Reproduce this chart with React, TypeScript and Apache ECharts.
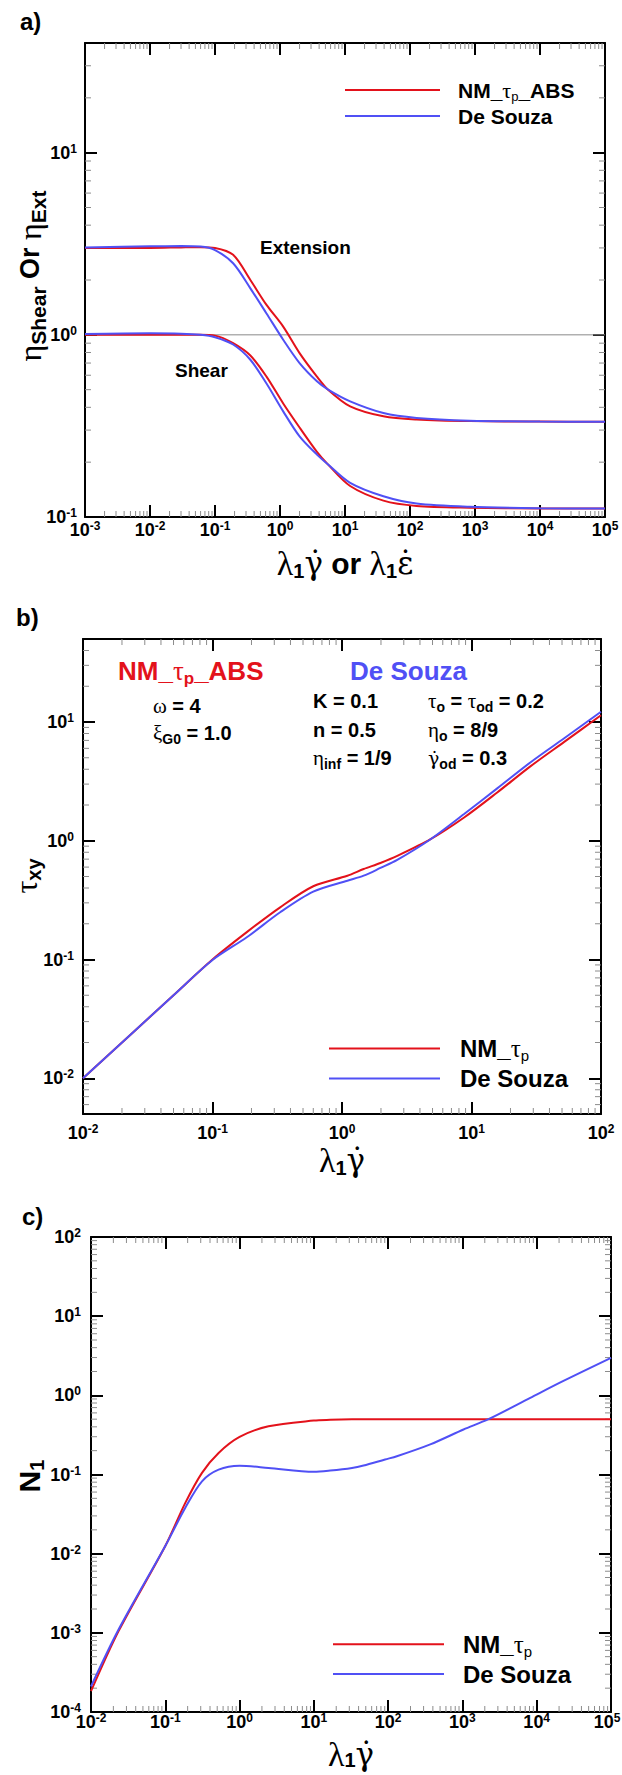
import React, { useEffect, useRef } from 'react';
import * as echarts from 'echarts';

const RED = '#e3121b';
const BLUE = '#5050f5';
const SANS = '"Liberation Sans", Arial, sans-serif';
const SERIF = '"Liberation Serif", "Times New Roman", serif';
const DSERIF = '"DejaVu Serif", "Liberation Serif", serif';
const NB = '\u00A0';

// ---------- panel a : viscosity ----------
const aRate = [0.001, 0.01, 0.03, 0.06, 0.1, 0.19, 0.35, 0.62, 1.12, 2.0, 3.7, 5.5, 12, 39, 126, 830, 10000, 100000];
const aExtNM = [3.0, 3.0, 3.02, 3.03, 3.0, 2.75, 2.0, 1.46, 1.11, 0.794, 0.59, 0.5, 0.405, 0.357, 0.343, 0.336, 0.334, 0.333];
const aExtDS = [3.02, 3.06, 3.07, 3.05, 2.92, 2.47, 1.8, 1.31, 0.94, 0.7, 0.556, 0.5, 0.431, 0.372, 0.35, 0.338, 0.334, 0.333];
const aShearNM = [1.0, 1.0, 1.0, 1.0, 0.99, 0.9, 0.77, 0.59, 0.42, 0.31, 0.228, 0.194, 0.148, 0.123, 0.115, 0.1125, 0.1115, 0.1112];
const aShearDS = [1.01, 1.02, 1.015, 1.0, 0.97, 0.885, 0.73, 0.54, 0.38, 0.277, 0.22, 0.194, 0.154, 0.13, 0.1186, 0.1138, 0.1118, 0.1113];
const aRefX = [0.001, 100000];
const aRefY = [1, 1];

// ---------- panel b : shear stress ----------
const bRate = [0.01, 0.05, 0.1, 0.184, 0.333, 0.6, 1.1, 1.47, 1.98, 2.67, 4.83, 8.77, 15.8, 28.8, 52, 100];
const bTauNM = [0.01, 0.05, 0.1, 0.17, 0.275, 0.414, 0.508, 0.578, 0.65, 0.745, 1.03, 1.57, 2.55, 4.27, 6.8, 11.4];
const bTauDS = [0.01, 0.05, 0.099, 0.154, 0.25, 0.373, 0.461, 0.508, 0.59, 0.69, 1.03, 1.68, 2.76, 4.61, 7.3, 12.2];

// ---------- panel c : first normal stress difference ----------
const cRate = [0.01, 0.0235, 0.1, 0.186, 0.312, 0.522, 1, 2.45, 10, 16.6, 32.6, 46.7, 91, 131, 369, 1035, 2240, 8180, 22900, 100000];
const cN1NM = [1.83e-4, 1.05e-3, 0.0125, 0.0438, 0.105, 0.187, 0.298, 0.406, 0.48, 0.49, 0.497, 0.5, 0.5, 0.5, 0.5, 0.5, 0.5, 0.5, 0.5, 0.5];
const cN1DS = [2.1e-4, 1.1e-3, 0.0125, 0.038, 0.082, 0.115, 0.129, 0.121, 0.108, 0.112, 0.121, 0.13, 0.155, 0.17, 0.24, 0.37, 0.5, 0.93, 1.52, 2.97];

// ---------- axis ranges ----------
const aXRange = [0.001, 100000];
const aYRange = [0.1, 40];
const bXRange = [0.01, 100];
const bYRange = [0.005, 50];
const cXRange = [0.01, 100000];
const cYRange = [0.0001, 100];

const zip = (xs: number[], ys: number[]) => xs.map((x, i) => [x, ys[i]]);

function makeExpLabel(maxV: number, shiftLast: boolean) {
  return (v: number) => {
    const e = Math.log10(v);
    const r = Math.round(e);
    if (Math.abs(e - r) > 1e-6) return '';
    if (shiftLast && Math.abs(v - maxV) / maxV < 1e-6) return `{b|10}{sr|${r}}`;
    return `{b|10}{s|${r}}`;
  };
}

const tickRich = {
  b: { fontFamily: SANS, fontWeight: 'bold', fontSize: 18, lineHeight: 18, color: '#000' },
  s: { fontFamily: SANS, fontWeight: 'bold', fontSize: 12, lineHeight: 12, color: '#000', padding: [0, 0, 8, 0] },
  sr: { fontFamily: SANS, fontWeight: 'bold', fontSize: 12, lineHeight: 12, color: '#000', padding: [0, 8, 8, 0] },
};

function minorVals(r: number[]) {
  const out: number[] = [];
  const e0 = Math.floor(Math.log10(r[0]) + 1e-9);
  const e1 = Math.ceil(Math.log10(r[1]) - 1e-9);
  for (let e = e0; e < e1; e++) {
    for (let m = 2; m <= 9; m++) {
      const v = m * Math.pow(10, e);
      if (v > r[0] * 1.0001 && v < r[1] * 0.9999) out.push(v);
    }
  }
  return out;
}

function makeAxes(gi: number, xr: number[], yr: number[], xm: number, ym: number, shiftLast = false) {
  const line = { show: true, onZero: false, lineStyle: { color: '#000', width: 2 } };
  const tick = { show: true, inside: true, length: 12, lineStyle: { color: '#000', width: 2 } };
  const base = { type: 'log', logBase: 10, gridIndex: gi, splitLine: { show: false }, minorTick: { show: false }, axisLine: line, axisTick: tick };
  return {
    x: [
      { ...base, min: xr[0], max: xr[1], position: 'bottom', axisLabel: { show: true, margin: xm, formatter: makeExpLabel(xr[1], shiftLast), rich: tickRich } },
      { ...base, min: xr[0], max: xr[1], position: 'top', axisLabel: { show: false } },
    ],
    y: [
      { ...base, min: yr[0], max: yr[1], position: 'left', axisLabel: { show: true, margin: ym, formatter: makeExpLabel(yr[1], false), rich: tickRich } },
      { ...base, min: yr[0], max: yr[1], position: 'right', axisLabel: { show: false } },
    ],
  };
}

function minorSeries(gi: number, xr: number[], yr: number[]) {
  const data: number[][] = [];
  minorVals(xr).forEach((v) => data.push([v, yr[0], 0]));
  minorVals(yr).forEach((v) => data.push([xr[0], v, 1]));
  return {
    type: 'custom',
    xAxisIndex: gi * 2,
    yAxisIndex: gi * 2,
    data,
    silent: true,
    z: 1,
    encode: { x: 0, y: 1 },
    renderItem: (params: any, api: any) => {
      const cs = params.coordSys;
      const p = api.coord([api.value(0), api.value(1)]);
      const st = { stroke: '#8c8c8c', lineWidth: 1 };
      const L = 6;
      if (api.value(2) === 0) {
        return {
          type: 'group',
          children: [
            { type: 'line', shape: { x1: p[0], y1: cs.y + cs.height, x2: p[0], y2: cs.y + cs.height - L }, style: st },
            { type: 'line', shape: { x1: p[0], y1: cs.y, x2: p[0], y2: cs.y + L }, style: st },
          ],
        };
      }
      return {
        type: 'group',
        children: [
          { type: 'line', shape: { x1: cs.x, y1: p[1], x2: cs.x + L, y2: p[1] }, style: st },
          { type: 'line', shape: { x1: cs.x + cs.width, y1: p[1], x2: cs.x + cs.width - L, y2: p[1] }, style: st },
        ],
      };
    },
  };
}

function curve(gi: number, xs: number[], ys: number[], color: string, width = 2) {
  return {
    type: 'line',
    xAxisIndex: gi * 2,
    yAxisIndex: gi * 2,
    data: zip(xs, ys),
    showSymbol: false,
    symbol: 'none',
    smooth: 0.3,
    lineStyle: { color, width },
    itemStyle: { color },
    z: 3,
  };
}

function richFor(F: number, color: string, o: any = {}) {
  const G = o.G ?? Math.round(F * 1.1);
  const S = o.S ?? Math.round(F * 0.65);
  const D = o.D ?? Math.round(F * 0.6);
  return {
    b: { font: `bold ${F}px ${SANS}`, fill: color, lineHeight: F },
    g: { font: `${G}px ${SERIF}`, fill: color, lineHeight: F },
    d: { font: `${Math.round(G * 0.9)}px ${DSERIF}`, fill: color, lineHeight: F },
    s: { font: `bold ${S}px ${SANS}`, fill: color, lineHeight: S, padding: [D, 0, 0, 0] },
    n: { font: `${S}px ${SANS}`, fill: color, lineHeight: S, padding: [D, 0, 0, 0] },
  };
}

function rtext(x: number, y: number, toks: string[][], rich: any, align = 'left', rot = 0) {
  return {
    type: 'text',
    x,
    y,
    rotation: rot,
    z: 100,
    style: {
      text: toks.map(([s, t]) => `{${s}|${t}}`).join(''),
      rich,
      font: rich.b.font,
      fill: rich.b.fill,
      align,
      verticalAlign: 'middle',
      textAlign: align,
      textVerticalAlign: 'middle',
    },
  };
}

function hline(x1: number, x2: number, y: number, color: string) {
  return { type: 'line', z: 100, shape: { x1, y1: y, x2, y2: y }, style: { stroke: color, lineWidth: 2 } };
}

const GDOT = 'γ\u0307';
const EDOT = 'ε\u0307';

export default function App() {
  const ref = useRef<HTMLDivElement>(null);
  useEffect(() => {
    document.body.style.margin = '0';
    if (!ref.current) return;
    const chart = echarts.init(ref.current, undefined, { renderer: 'svg' });
    const A = makeAxes(0, aXRange, aYRange, 4, 8);
    const B = makeAxes(1, bXRange, bYRange, 10, 9);
    const C = makeAxes(2, cXRange, cYRange, 1, 10, true);

    const lab = richFor(24, '#000');
    const legA = richFor(21, '#000', { G: 22, S: 13, D: 12 });
    const legB = richFor(24, '#000', { G: 25, S: 15, D: 14 });
    const ann = richFor(20, '#000', { G: 21, S: 14, D: 12 });
    const annRed = richFor(26, RED, { G: 27, S: 17, D: 15 });
    const annBlue = richFor(26, BLUE);
    const curveLbl = richFor(19, '#000');
    const titleA = richFor(27, '#000', { G: 32, S: 21, D: 16 });
    const titleX = richFor(30, '#000', { G: 34, S: 20, D: 15 });
    const titleXc = richFor(30, '#000', { G: 34, S: 20, D: 11 });
    const titleN = richFor(30, '#000', { G: 32, S: 20, D: 16 });

    const graphic = [
      // panel a
      rtext(20, 21, [['b', 'a)']], lab),
      hline(345, 440, 90, RED),
      hline(345, 440, 116, BLUE),
      rtext(458, 90, [['b', 'NM_'], ['g', 'τ'], ['n', 'p'], ['b', '_ABS']], legA),
      rtext(458, 116, [['b', 'De Souza']], legA),
      rtext(260, 247, [['b', 'Extension']], curveLbl),
      rtext(175, 370, [['b', 'Shear']], curveLbl),
      rtext(30, 276, [['g', 'η'], ['s', 'Shear'], ['b', NB + 'Or' + NB], ['g', 'η'], ['s', 'Ext']], titleA, 'center', Math.PI / 2),
      rtext(345, 563, [['g', 'λ'], ['s', '1'], ['d', GDOT], ['b', NB + 'or' + NB], ['g', 'λ'], ['s', '1'], ['d', EDOT]], titleX, 'center'),
      // panel b
      rtext(16, 617, [['b', 'b)']], lab),
      rtext(118, 671, [['b', 'NM_'], ['g', 'τ'], ['s', 'p'], ['b', '_ABS']], annRed),
      rtext(350, 671, [['b', 'De Souza']], annBlue),
      rtext(153, 706, [['g', 'ω'], ['b', NB + '= 4']], ann),
      rtext(153, 733, [['g', 'ξ'], ['s', 'G0'], ['b', NB + '= 1.0']], ann),
      rtext(313, 701, [['b', 'K = 0.1']], ann),
      rtext(313, 730, [['b', 'n = 0.5']], ann),
      rtext(313, 758, [['g', 'η'], ['s', 'inf'], ['b', NB + '= 1/9']], ann),
      rtext(428, 701, [['g', 'τ'], ['s', 'o'], ['b', NB + '=' + NB], ['g', 'τ'], ['s', 'od'], ['b', NB + '= 0.2']], ann),
      rtext(428, 730, [['g', 'η'], ['s', 'o'], ['b', NB + '= 8/9']], ann),
      rtext(428, 758, [['d', GDOT], ['s', 'od'], ['b', NB + '= 0.3']], ann),
      hline(329, 440, 1048.6, RED),
      hline(329, 440, 1078.6, BLUE),
      rtext(460, 1048.5, [['b', 'NM_'], ['g', 'τ'], ['n', 'p']], legB),
      rtext(460, 1078.5, [['b', 'De Souza']], legB),
      rtext(26, 876, [['g', 'τ'], ['s', 'xy']], titleN, 'center', Math.PI / 2),
      rtext(342, 1160, [['g', 'λ'], ['s', '1'], ['d', GDOT]], titleX, 'center'),
      // panel c
      rtext(22, 1216, [['b', 'c)']], lab),
      hline(333, 444, 1644.3, RED),
      hline(333, 444, 1674, BLUE),
      rtext(463, 1644, [['b', 'NM_'], ['g', 'τ'], ['n', 'p']], legB),
      rtext(463, 1674, [['b', 'De Souza']], legB),
      rtext(29, 1476, [['b', 'N'], ['s', '1']], titleN, 'center', Math.PI / 2),
      rtext(351, 1754, [['g', 'λ'], ['s', '1'], ['d', GDOT]], titleXc, 'center'),
    ];

    const option: any = {
      animation: false,
      backgroundColor: '#fff',
      textStyle: { fontFamily: SANS },
      grid: [
        { left: 85, top: 43, width: 520, height: 474, outerBoundsMode: 'none' },
        { left: 83, top: 639, width: 518, height: 475, outerBoundsMode: 'none' },
        { left: 91, top: 1237, width: 520, height: 475, outerBoundsMode: 'none' },
      ],
      xAxis: [...A.x, ...B.x, ...C.x],
      yAxis: [...A.y, ...B.y, ...C.y],
      series: [
        { type: 'line', xAxisIndex: 0, yAxisIndex: 0, data: zip(aRefX, aRefY), showSymbol: false, symbol: 'none', lineStyle: { color: '#8a8a8a', width: 1 }, z: 2 },
        curve(0, aRate, aExtNM, RED),
        curve(0, aRate, aExtDS, BLUE),
        curve(0, aRate, aShearNM, RED),
        curve(0, aRate, aShearDS, BLUE),
        curve(1, bRate, bTauNM, RED),
        curve(1, bRate, bTauDS, BLUE),
        curve(2, cRate, cN1NM, RED),
        curve(2, cRate, cN1DS, BLUE),
        minorSeries(0, aXRange, aYRange),
        minorSeries(1, bXRange, bYRange),
        minorSeries(2, cXRange, cYRange),
      ],
      graphic,
    };
    chart.setOption(option);
    return () => chart.dispose();
  }, []);
  return <div ref={ref} style={{ width: 622, height: 1775 }} />;
}
